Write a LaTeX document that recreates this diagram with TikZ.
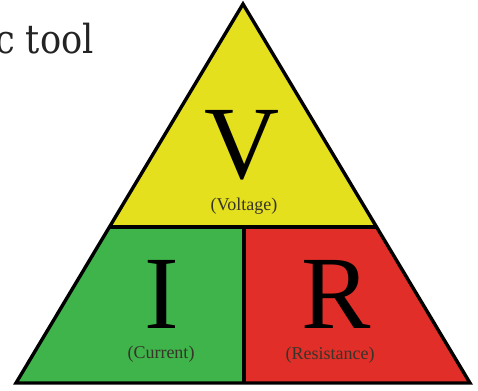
\documentclass[tikz,border=0pt]{standalone}
\usepackage{fontspec}
\setmainfont{Liberation Serif}
\newfontfamily\headfont{DejaVu Serif}
\definecolor{vyellow}{RGB}{228,224,30}
\definecolor{igreen}{RGB}{62,180,74}
\definecolor{rred}{RGB}{226,46,40}
\definecolor{labelgray}{RGB}{55,52,40}
\definecolor{headgray}{RGB}{35,35,35}
\begin{document}
\begin{tikzpicture}[x=1pt,y=-1pt,
  outline/.style={line width=3.4pt,line join=miter,black},
  bigletter/.style={inner sep=0pt,anchor=base,font=\fontsize{104}{104}\selectfont},
  smalllabel/.style={inner sep=0pt,text=labelgray,font=\fontsize{18}{18}\selectfont}]
\useasboundingbox (0,0) rectangle (478,390);
\clip (0,0) rectangle (478,390);
\fill[white] (0,0) rectangle (478,390);
% geometry
\coordinate (apex) at (243,4);
\coordinate (bl) at (16,383);
\coordinate (br) at (470,383);
\coordinate (ml) at (109.4,227);
\coordinate (mr) at (376.6,227);
\coordinate (mt) at (244,227);
\coordinate (mb) at (244,383);
% fills
\fill[vyellow] (apex) -- (mr) -- (ml) -- cycle;
\fill[igreen] (ml) -- (mt) -- (mb) -- (bl) -- cycle;
\fill[rred] (mt) -- (mr) -- (br) -- (mb) -- cycle;
% outlines
\draw[outline] (apex) -- (br) -- (bl) -- cycle;
\draw[outline] (ml) -- (mr);
\draw[outline] (mt) -- (mb);
% letters
\node[bigletter] (v) at (242,178) {V};
\node[bigletter] (i) at (162,328) {I};
\node[bigletter] (r) at (336,328) {R};
\node[smalllabel] (vl) at (244,206) {(Voltage)};
\node[smalllabel] (il) at (161,354) {(Current)};
\node[smalllabel] (rl) at (330,355) {(Resistance)};
% heading fragment
\node[inner sep=0pt,anchor=base east,text=headgray] (head) at (94,54)
  {\scalebox{0.88}[1]{\headfont\fontsize{40}{40}\selectfont c tool}};
\end{tikzpicture}
\end{document}
